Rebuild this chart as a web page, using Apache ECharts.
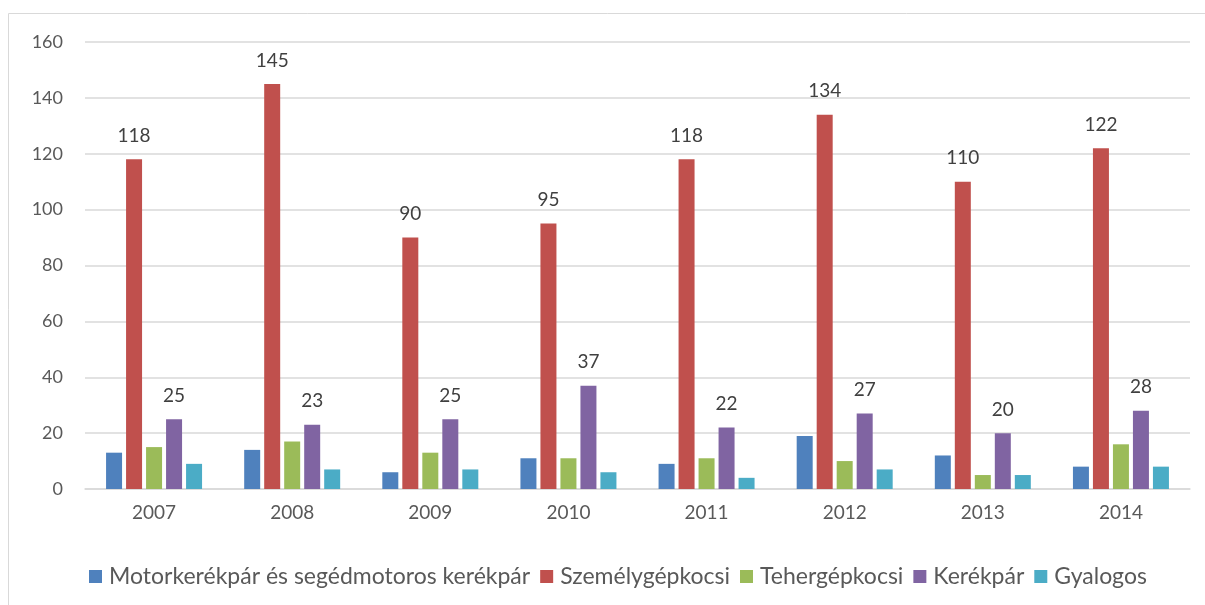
<!DOCTYPE html>
<html lang="hu">
<head>
  <meta charset="utf-8">
  <title>Balesetek</title>
  <script src="https://cdn.jsdelivr.net/npm/echarts@6/dist/echarts.min.js"></script>
  <style>
    html, body { margin: 0; padding: 0; background: #fff; }
    #chart { width: 1205px; height: 605px; }
  </style>
</head>
<body>
<div id="chart"></div>
<script type="text/javascript">
  // data
  var years = ['2007', '2008', '2009', '2010', '2011', '2012', '2013', '2014'];
  var motor = [13, 14, 6, 11, 9, 19, 12, 8];
  var szemely = [118, 145, 90, 95, 118, 134, 110, 122];
  var teher = [15, 17, 13, 11, 11, 10, 5, 16];
  var kerekpar = [25, 23, 25, 37, 22, 27, 20, 28];
  var gyalogos = [9, 7, 7, 6, 4, 7, 5, 8];

  var font = 'Lato, "Open Sans", sans-serif';
  var textColor = '#595959';

  function bar(name, data, color, showLabel) {
    return {
      name: name,
      type: 'bar',
      data: data,
      barWidth: 16,
      barGap: '25%',
      itemStyle: { color: color },
      label: {
        show: showLabel,
        position: 'top',
        distance: 14,
        color: '#404040',
        fontSize: 19,
        fontFamily: font
      }
    };
  }

  var myChart = echarts.init(document.getElementById('chart'));
  var option = {
    animation: false,
    textStyle: { fontFamily: font },
    graphic: [{
      type: 'rect',
      shape: { x: 8.5, y: 13.5, width: 1205, height: 600 },
      style: { fill: 'none', stroke: '#D9D9D9', lineWidth: 1 },
      silent: true
    }],
    grid: { left: 85, right: 15, top: 42, bottom: 116 },
    legend: {
      top: 560,
      left: 84,
      padding: 5,
      itemWidth: 13,
      itemHeight: 13,
      itemGap: 10,
      icon: 'rect',
      textStyle: { color: textColor, fontSize: 23, fontFamily: font, padding: [0, 0, 0, 2] },
      data: ['Motorkerékpár és segédmotoros kerékpár', 'Személygépkocsi', 'Tehergépkocsi', 'Kerékpár', 'Gyalogos']
    },
    xAxis: {
      type: 'category',
      data: years,
      axisLine: { lineStyle: { color: '#D9D9D9', width: 1.5 } },
      axisTick: { show: false },
      axisLabel: { color: textColor, fontSize: 19, margin: 14, fontFamily: font }
    },
    yAxis: {
      type: 'value',
      min: 0,
      max: 160,
      interval: 20,
      axisLine: { show: false },
      axisTick: { show: false },
      splitLine: { lineStyle: { color: '#D9D9D9', width: 1.5 } },
      axisLabel: { color: textColor, fontSize: 18, margin: 22, fontFamily: font }
    },
    series: [
      bar('Motorkerékpár és segédmotoros kerékpár', motor, '#4F81BD', false),
      bar('Személygépkocsi', szemely, '#C0504D', true),
      bar('Tehergépkocsi', teher, '#9BBB59', false),
      bar('Kerékpár', kerekpar, '#8064A2', true),
      bar('Gyalogos', gyalogos, '#4BACC6', false)
    ]
  };
  myChart.setOption(option);
</script>
</body>
</html>
